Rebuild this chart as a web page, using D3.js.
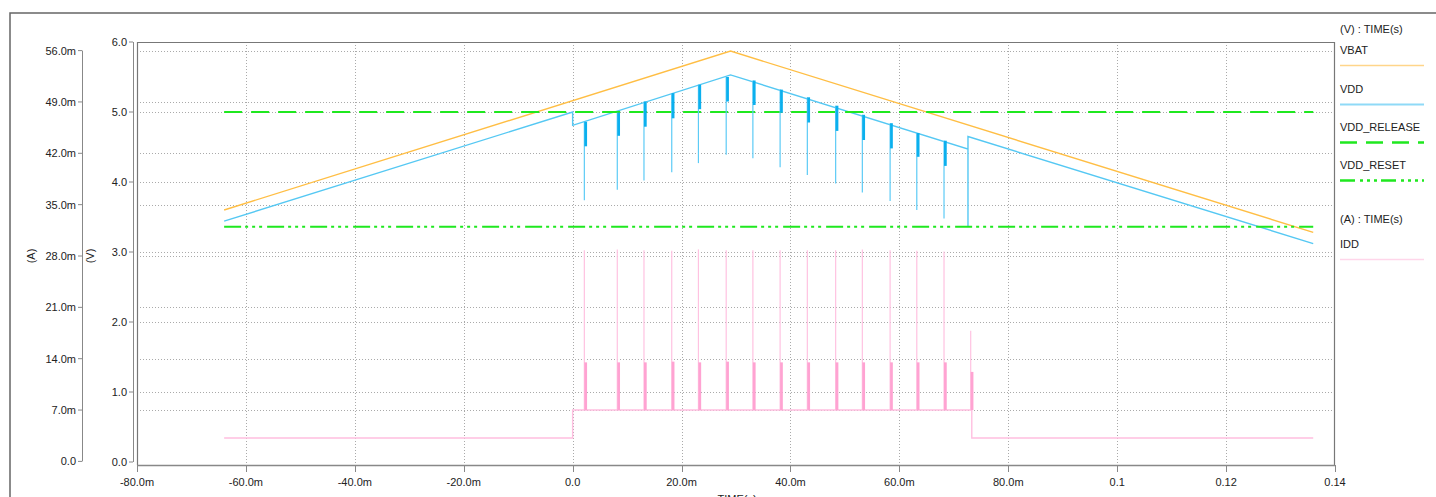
<!DOCTYPE html>
<html>
<head>
<meta charset="utf-8">
<script src="https://cdnjs.cloudflare.com/ajax/libs/d3/7.8.5/d3.min.js"></script>
<style>
body{margin:0;background:#fff;overflow:hidden;}
text{font-family:"Liberation Sans",Arial,sans-serif;font-size:11px;fill:#222;}
</style>
</head>
<body>
<script>
// ticks
var xTicks = [-0.08,-0.06,-0.04,-0.02,0,0.02,0.04,0.06,0.08,0.1,0.12,0.14];
var xTickLabels = ['-80.0m','-60.0m','-40.0m','-20.0m','0.0','20.0m','40.0m','60.0m','80.0m','0.1','0.12','0.14'];
var vTicks = [0,1,2,3,4,5,6];
var vTickLabels = ['0.0','1.0','2.0','3.0','4.0','5.0','6.0'];
var aTicks = [0,0.007,0.014,0.021,0.028,0.035,0.042,0.049,0.056];
var aTickLabels = ['0.0','7.0m','14.0m','21.0m','28.0m','35.0m','42.0m','49.0m','56.0m'];

// VBAT (V)
var vbatT = [-0.064, 0.029, 0.136];
var vbatV = [3.60, 5.87, 3.28];

// VDD (V) base trace
var vddT = [-0.064, 0, 0, 0.029, 0.0726, 0.0726, 0.0726, 0.136];
var vddV = [3.44, 5.00, 4.81, 5.53, 4.47, 3.36, 4.65, 3.12];

// thresholds
var releaseV = 5.0;
var resetV = 3.36;
var thrT = [-0.064, 0.136];

// load pulses
var pulseT = [0.00215,0.0082,0.0131,0.0182,0.0231,0.0282,0.0331,0.0381,0.0431,0.0483,0.0532,0.0583,0.0632,0.0682];
var pulseLen = 0.0005;
var vddAtPulse = [4.86,4.99,5.15,5.27,5.39,5.50,5.45,5.32,5.21,5.09,4.96,4.84,4.70,4.59];
var vddDip = [4.51,4.66,4.79,4.91,5.04,5.15,5.10,4.99,4.85,4.73,4.60,4.48,4.36,4.23];
var vddMin = [3.74,3.89,4.02,4.14,4.27,4.39,4.34,4.21,4.10,3.98,3.85,3.73,3.60,3.48];

// IDD (A)
var iddT = [-0.064, 0, 0, 0.0733, 0.0733, 0.136];
var iddA = [0.0032, 0.0032, 0.0070, 0.0070, 0.0032, 0.0032];
var iddPulseT = [0.00215,0.0082,0.0131,0.0182,0.0231,0.0282,0.0331,0.0381,0.0431,0.0483,0.0532,0.0583,0.0632,0.0682,0.0731];
var iddPeak = [0.0288,0.0289,0.0288,0.0287,0.0289,0.0288,0.0288,0.0288,0.0288,0.0288,0.0289,0.0288,0.0287,0.0286,0.0178];
var iddHold = [0.0135,0.0135,0.0135,0.0136,0.0135,0.0136,0.0135,0.0135,0.0135,0.0135,0.0135,0.0135,0.0135,0.0135,0.0122];

var W = 1436, H = 497;
var x = d3.scaleLinear().domain([-0.08, 0.14]).range([137, 1335]);
var yV = d3.scaleLinear().domain([0, 6]).range([462, 42]);
var yA = d3.scaleLinear().domain([0, 0.056]).range([461.4, 50.6]);

var svg = d3.select('body').append('svg')
            .attr('width', W)
            .attr('height', H);

// outer frame
svg.append('rect').attr('x', 10).attr('y', 13).attr('width', 1440).attr('height', 520)
   .attr('fill', 'none').attr('stroke', '#666').attr('stroke-width', 1.5);

// grid
var grid = svg.append('g').attr('stroke', '#aaa').attr('stroke-width', 1).attr('stroke-dasharray', '1,2');
grid.selectAll('line.gx').data(xTicks.slice(1, -1)).enter().append('line')
    .attr('x1', function(d){return Math.round(x(d)) + 0.5;})
    .attr('x2', function(d){return Math.round(x(d)) + 0.5;})
    .attr('y1', 42).attr('y2', 465);
grid.selectAll('line.gv').data(vTicks.slice(1, -1)).enter().append('line')
    .attr('x1', 137).attr('x2', 1335)
    .attr('y1', function(d){return Math.round(yV(d)) + 0.5;})
    .attr('y2', function(d){return Math.round(yV(d)) + 0.5;});
grid.selectAll('line.ga').data(aTicks.slice(1)).enter().append('line')
    .attr('x1', 137).attr('x2', 1335)
    .attr('y1', function(d){return Math.round(yA(d)) + 0.5;})
    .attr('y2', function(d){return Math.round(yA(d)) + 0.5;});

// plot frame
svg.append('path').attr('d', 'M137.5,465V42.5H1334.5V465')
   .attr('fill', 'none').attr('stroke', '#777').attr('stroke-width', 1.2);

var pts = function(ts, vs){ return ts.map(function(t, i){ return [t, vs[i]]; }); };
var lineV = d3.line().x(function(d){return x(d[0]);}).y(function(d){return yV(d[1]);});
var lineA = d3.line().x(function(d){return x(d[0]);}).y(function(d){return yA(d[1]);});

// IDD
svg.append('path').datum(pts(iddT, iddA)).attr('d', lineA)
   .attr('fill', 'none').attr('stroke', '#ffbfe0').attr('stroke-width', 1.4);
svg.selectAll('line.iddspk').data(iddPulseT).enter().append('line')
   .attr('x1', function(d){return x(d);}).attr('x2', function(d){return x(d);})
   .attr('y1', yA(0.007))
   .attr('y2', function(d, i){return yA(iddPeak[i]);})
   .attr('stroke', '#ffc2e1').attr('stroke-width', 1.2);
svg.selectAll('rect.iddhold').data(iddPulseT).enter().append('rect')
   .attr('x', function(d){return x(d);})
   .attr('width', function(d){return x(d + pulseLen) - x(d);})
   .attr('y', function(d, i){return yA(iddHold[i]);})
   .attr('height', function(d, i){return yA(0.007) - yA(iddHold[i]);})
   .attr('fill', '#ffa3d2');

// VBAT
svg.append('path').datum(pts(vbatT, vbatV)).attr('d', lineV)
   .attr('fill', 'none').attr('stroke', '#ffbe44').attr('stroke-width', 1.4);

// VDD
svg.append('path').datum(pts(vddT, vddV)).attr('d', lineV)
   .attr('fill', 'none').attr('stroke', '#55c8f3').attr('stroke-width', 1.4);

// thresholds
svg.append('path').datum(pts(thrT, [releaseV, releaseV])).attr('d', lineV)
   .attr('fill', 'none').attr('stroke', '#1fe81f').attr('stroke-width', 2)
   .attr('stroke-dasharray', '18,9');
svg.append('path').datum(pts(thrT, [resetV, resetV])).attr('d', lineV)
   .attr('fill', 'none').attr('stroke', '#1fe81f').attr('stroke-width', 2)
   .attr('stroke-dasharray', '17,4,3,4,3,4,3,5');

// VDD dips
svg.selectAll('line.vddspk').data(pulseT).enter().append('line')
   .attr('x1', function(d){return x(d);}).attr('x2', function(d){return x(d);})
   .attr('y1', function(d, i){return yV(vddAtPulse[i]);})
   .attr('y2', function(d, i){return yV(vddMin[i]);})
   .attr('stroke', '#5ccbf6').attr('stroke-width', 1.2);
svg.selectAll('rect.vdddip').data(pulseT).enter().append('rect')
   .attr('x', function(d){return x(d);})
   .attr('width', function(d){return x(d + pulseLen) - x(d);})
   .attr('y', function(d, i){return yV(vddAtPulse[i]);})
   .attr('height', function(d, i){return yV(vddDip[i]) - yV(vddAtPulse[i]);})
   .attr('fill', '#0bb0ee');

// V axis
svg.append('line').attr('x1', 133.5).attr('x2', 133.5).attr('y1', 42).attr('y2', 462)
   .attr('stroke', '#888').attr('stroke-width', 1);
svg.selectAll('line.vt').data(vTicks).enter().append('line')
   .attr('x1', 129).attr('x2', 133)
   .attr('y1', function(d){return yV(d);}).attr('y2', function(d){return yV(d);})
   .attr('stroke', '#888');
svg.selectAll('text.vt').data(vTicks).enter().append('text')
   .attr('x', 127).attr('y', function(d){return yV(d) + 4;})
   .attr('text-anchor', 'end')
   .text(function(d, i){return vTickLabels[i];});

// A axis
svg.append('line').attr('x1', 82.5).attr('x2', 82.5).attr('y1', yA(0.056)).attr('y2', yA(0))
   .attr('stroke', '#888').attr('stroke-width', 1);
svg.selectAll('line.at').data(aTicks).enter().append('line')
   .attr('x1', 78).attr('x2', 82)
   .attr('y1', function(d){return yA(d);}).attr('y2', function(d){return yA(d);})
   .attr('stroke', '#888');
svg.selectAll('text.at').data(aTicks).enter().append('text')
   .attr('x', 76).attr('y', function(d){return yA(d) + 4;})
   .attr('text-anchor', 'end')
   .text(function(d, i){return aTickLabels[i];});

svg.append('text').attr('transform', 'translate(35,256) rotate(-90)').attr('text-anchor', 'middle').text('(A)');
svg.append('text').attr('transform', 'translate(94,256) rotate(-90)').attr('text-anchor', 'middle').text('(V)');

// time axis
svg.append('line').attr('x1', 137).attr('x2', 1335).attr('y1', 465.5).attr('y2', 465.5)
   .attr('stroke', '#888').attr('stroke-width', 1.5);
svg.selectAll('line.xt').data(xTicks).enter().append('line')
   .attr('x1', function(d){return Math.round(x(d)) + 0.5;})
   .attr('x2', function(d){return Math.round(x(d)) + 0.5;})
   .attr('y1', 465).attr('y2', 472)
   .attr('stroke', '#888');
svg.selectAll('text.xt').data(xTicks).enter().append('text')
   .attr('x', function(d){return x(d);}).attr('y', 486)
   .attr('text-anchor', 'middle')
   .text(function(d, i){return xTickLabels[i];});
// axis title sits at the window's bottom edge, as in the reference
svg.append('text').attr('x', 737).attr('y', 503).attr('text-anchor', 'middle').text('TIME(s)');

// legend
var legend = [
  {label: 'VBAT', y: 50, color: '#ffd58a', width: 1.5, dash: null},
  {label: 'VDD', y: 89, color: '#8fdaf7', width: 2, dash: null},
  {label: 'VDD_RELEASE', y: 127, color: '#1fe81f', width: 2.5, dash: '17,9'},
  {label: 'VDD_RESET', y: 165, color: '#1fe81f', width: 2.5, dash: '15,5,3,4,3,4,3,4'}
];
svg.append('text').attr('x', 1340).attr('y', 33).text('(V) : TIME(s)');
svg.append('text').attr('x', 1340).attr('y', 223).text('(A) : TIME(s)');
legend.push({label: 'IDD', y: 244, color: '#ffd6ea', width: 1.5, dash: null});
legend.forEach(function(l){
  svg.append('text').attr('x', 1340).attr('y', l.y + 4).text(l.label);
  svg.append('line').attr('x1', 1340).attr('x2', 1424)
     .attr('y1', l.y + 15.5).attr('y2', l.y + 15.5)
     .attr('stroke', l.color).attr('stroke-width', l.width)
     .attr('stroke-dasharray', l.dash);
});
</script>
</body>
</html>
